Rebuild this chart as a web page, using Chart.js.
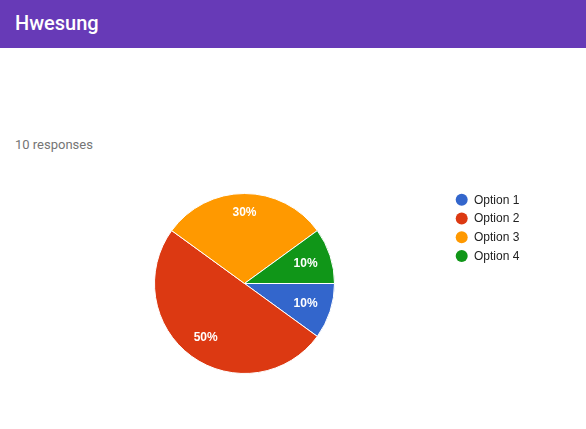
<!DOCTYPE html>
<html>
<head>
<meta charset="utf-8">
<script src="https://cdn.jsdelivr.net/npm/chart.js@4"></script>
<style>
  html, body { margin: 0; padding: 0; background: #fff; width: 586px; height: 429px; overflow: hidden; }
  #header { position: absolute; left: 0; top: 0; width: 586px; height: 48px; background: #673ab7; }
  #title { position: absolute; left: 15px; top: 9px; font-family: Roboto, Arial, sans-serif; font-weight: 500; font-size: 20px; color: #fff; line-height: 28px; }
  #resp { position: absolute; left: 15px; top: 136px; font-family: Roboto, Arial, sans-serif; font-size: 13px; color: #757575; line-height: 18px; }
  #wrap { position: absolute; left: 0; top: 0; width: 586px; height: 429px; }
</style>
</head>
<body>
<div id="header"><div id="title">Hwesung</div></div>
<div id="resp">10 responses</div>
<div id="wrap"><canvas id="c" width="586" height="429"></canvas></div>
<script>
const categories = ["Option 1", "Option 2", "Option 3", "Option 4"];
const values = [1, 5, 3, 1];
const colors = ["#3366cc", "#dc3912", "#ff9900", "#109618"];

const percentLabels = {
  id: 'percentLabels',
  afterDatasetsDraw(chart) {
    const ctx = chart.ctx;
    const meta = chart.getDatasetMeta(0);
    const data = chart.data.datasets[0].data;
    const total = data.reduce((a, b) => a + b, 0);
    ctx.save();
    ctx.font = 'bold 12px "Liberation Sans", Arial, sans-serif';
    ctx.fillStyle = '#ffffff';
    ctx.textAlign = 'center';
    ctx.textBaseline = 'middle';
    meta.data.forEach((arc, i) => {
      const p = arc.getProps(['x', 'y', 'startAngle', 'endAngle', 'outerRadius']);
      const mid = (p.startAngle + p.endAngle) / 2;
      const pct = Math.round(data[i] / total * 100) + '%';
      const hw = ctx.measureText(pct).width / 2;
      const hh = 4.3;
      const Rl = p.outerRadius * 0.855;
      const a = Math.abs(Math.cos(mid)), b = Math.abs(Math.sin(mid));
      const k = a * hw + b * hh;
      const d = -k + Math.sqrt(k * k - (hw * hw + hh * hh - Rl * Rl));
      ctx.fillText(pct, p.x + Math.cos(mid) * d, p.y + Math.sin(mid) * d + 0.5);
    });
    ctx.restore();
  }
};

const sideLegend = {
  id: 'sideLegend',
  afterDraw(chart) {
    const ctx = chart.ctx;
    const labels = chart.data.labels;
    const bg = chart.data.datasets[0].backgroundColor;
    ctx.save();
    ctx.font = '12px "Liberation Sans", Arial, sans-serif';
    ctx.textBaseline = 'middle';
    ctx.textAlign = 'left';
    labels.forEach((lab, i) => {
      const y = 199.7 + i * 18.8;
      ctx.beginPath();
      ctx.arc(461.7, y, 6, 0, Math.PI * 2);
      ctx.fillStyle = bg[i];
      ctx.fill();
      ctx.fillStyle = '#222222';
      ctx.fillText(lab, 474, y + 0.5);
    });
    ctx.restore();
  }
};

new Chart(document.getElementById('c'), {
  type: 'pie',
  data: {
    labels: categories,
    datasets: [{
      data: values,
      backgroundColor: colors,
      borderColor: '#ffffff',
      borderWidth: 1
    }]
  },
  options: {
    responsive: false,
    animation: false,
    rotation: 90,
    layout: { padding: { left: 154, right: 251, top: 193, bottom: 55 } },
    plugins: {
      legend: { display: false },
      tooltip: { enabled: false }
    }
  },
  plugins: [percentLabels, sideLegend]
});
</script>
</body>
</html>
